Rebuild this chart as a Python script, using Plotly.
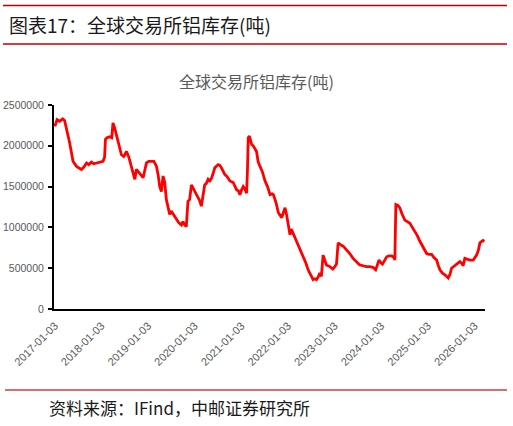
import plotly.graph_objects as go

dates = [
    "2017-01-03","2017-01-20","2017-02-10","2017-03-05","2017-03-20","2017-04-28","2017-05-25","2017-06-20",
    "2017-07-08","2017-07-30","2017-08-18","2017-09-08","2017-09-25","2017-10-16","2017-11-03","2017-11-25",
    "2017-12-20","2018-01-15","2018-01-27","2018-02-03","2018-02-15","2018-03-08","2018-03-24","2018-04-03",
    "2018-04-16","2018-04-30","2018-05-18","2018-06-08","2018-06-26","2018-07-18","2018-08-05","2018-08-25",
    "2018-09-09","2018-09-21","2018-10-03","2018-10-13","2018-10-30","2018-11-25","2018-12-08","2018-12-21",
    "2019-01-08","2019-01-30","2019-02-17","2019-03-09","2019-03-22","2019-04-04","2019-04-17","2019-04-30",
    "2019-05-13","2019-05-26","2019-06-21","2019-07-03","2019-07-18","2019-08-12","2019-08-30","2019-09-21",
    "2019-10-03","2019-10-16","2019-10-29","2019-11-11","2019-11-24","2019-12-08","2019-12-18","2020-01-03",
    "2020-01-15","2020-01-29","2020-02-10","2020-02-24","2020-03-08","2020-03-21","2020-04-03","2020-04-17",
    "2020-04-30","2020-05-13","2020-05-26","2020-06-08","2020-07-04","2020-07-17","2020-07-30","2020-08-25",
    "2020-09-14","2020-10-04","2020-10-30","2020-11-12","2020-11-26","2020-12-09","2020-12-22","2021-01-04",
    "2021-01-17","2021-01-30","2021-02-12","2021-02-19","2021-02-25","2021-03-06","2021-03-23","2021-04-05",
    "2021-04-18","2021-05-01","2021-05-14","2021-05-27","2021-06-16","2021-07-06","2021-07-26","2021-08-15",
    "2021-08-31","2021-09-10","2021-10-01","2021-10-19","2021-11-01","2021-11-14","2021-11-27","2021-12-10",
    "2021-12-23","2022-01-05","2022-01-18","2022-01-28","2022-02-08","2022-02-26","2022-03-11","2022-03-24",
    "2022-04-14","2022-05-02","2022-05-23","2022-06-09","2022-06-30","2022-07-18","2022-07-31","2022-08-13",
    "2022-08-26","2022-09-08","2022-09-21","2022-10-04","2022-10-17","2022-10-30","2022-11-26","2022-12-19",
    "2023-01-04","2023-01-17","2023-01-30","2023-02-12","2023-02-25","2023-03-10","2023-04-05","2023-05-01",
    "2023-05-27","2023-06-22","2023-07-18","2023-08-13","2023-09-08","2023-10-04","2023-10-30","2023-11-20",
    "2023-12-16","2023-12-29","2024-01-12","2024-02-14","2024-03-03","2024-03-24","2024-04-11","2024-04-18",
    "2024-04-26","2024-05-12","2024-05-27","2024-06-12","2024-07-05","2024-07-25","2024-08-14","2024-09-02",
    "2024-09-22","2024-10-11","2024-10-31","2024-11-24","2024-12-23","2025-01-10","2025-01-31","2025-02-18",
    "2025-03-11","2025-03-25","2025-04-06","2025-04-26","2025-05-15","2025-06-10","2025-06-23","2025-07-06",
    "2025-07-24","2025-08-14","2025-08-27","2025-09-09","2025-09-24","2025-10-05","2025-10-18","2025-11-07",
    "2025-11-27","2025-12-23","2026-01-05","2026-01-18","2026-02-01","2026-02-13","2026-03-10","2026-03-20",
]

inventory = [
    2240000,2320000,2300000,2330000,2310000,2040000,1810000,1750000,
    1730000,1710000,1740000,1790000,1770000,1800000,1780000,1790000,
    1800000,1810000,1860000,2080000,2100000,2110000,2100000,2280000,
    2220000,2140000,2020000,1890000,1870000,1930000,1860000,1750000,
    1680000,1590000,1710000,1690000,1670000,1610000,1700000,1790000,
    1810000,1810000,1810000,1750000,1650000,1500000,1440000,1630000,
    1550000,1340000,1160000,1200000,1160000,1090000,1060000,1030000,
    1070000,1030000,1010000,1320000,1340000,1520000,1490000,1440000,
    1400000,1360000,1330000,1260000,1400000,1520000,1540000,1590000,
    1570000,1600000,1660000,1730000,1770000,1760000,1730000,1650000,
    1620000,1570000,1550000,1510000,1460000,1450000,1400000,1460000,
    1500000,1470000,1420000,1700000,2100000,2120000,2020000,2000000,
    1960000,1930000,1800000,1750000,1680000,1570000,1500000,1400000,
    1410000,1400000,1300000,1180000,1150000,1120000,1180000,1240000,
    1150000,1030000,910000,980000,940000,890000,830000,790000,
    720000,640000,560000,480000,410000,360000,370000,360000,
    390000,440000,400000,660000,600000,540000,520000,490000,
    520000,550000,810000,790000,780000,770000,730000,680000,
    620000,580000,540000,530000,520000,520000,510000,480000,
    600000,570000,550000,640000,650000,650000,630000,600000,
    1280000,1270000,1240000,1170000,1090000,1070000,1050000,1000000,
    950000,900000,830000,760000,680000,670000,670000,630000,
    600000,530000,480000,440000,420000,380000,420000,500000,
    520000,540000,560000,580000,560000,530000,620000,610000,
    600000,600000,630000,660000,720000,810000,840000,830000,
]

x_ticks = ["2017-01-03","2018-01-03","2019-01-03","2020-01-03","2021-01-03",
           "2022-01-03","2023-01-03","2024-01-03","2025-01-03","2026-01-03"]
y_ticks = [0, 500000, 1000000, 1500000, 2000000, 2500000]

header = "图表17：全球交易所铝库存(吨)"
chart_title = "全球交易所铝库存(吨)"
source = "资料来源：IFind，中邮证券研究所"

W, H = 513, 426
L, R, T, B = 54, 28, 105, 117
PW, PH = W - L - R, H - T - B

def px(x):
    return (x - L) / PW

def py(y):
    return (H - B - y) / PH

fig = go.Figure()
fig.add_trace(go.Scatter(x=dates, y=inventory, mode="lines",
                         line=dict(color="#FF0000", width=2.8), showlegend=False))

fig.update_layout(
    width=W, height=H,
    margin=dict(l=L, r=R, t=T, b=B, autoexpand=False),
    paper_bgcolor="white", plot_bgcolor="white",
    font=dict(family="Liberation Sans, Arial, sans-serif", color="#595959", size=11),
    xaxis=dict(
        range=["2016-12-27", "2026-03-25"],
        tickvals=x_ticks, ticktext=x_ticks, tickangle=-45,
        showgrid=False, zeroline=False, showline=True, linecolor="black", linewidth=2,
        ticks="", ticklabelstandoff=4, automargin=False,
        tickfont=dict(size=11, color="#595959"),
    ),
    yaxis=dict(
        range=[0, 2500000], tickvals=y_ticks, ticktext=[str(v) for v in y_ticks],
        showgrid=False, zeroline=False, showline=True, linecolor="black", linewidth=2,
        ticks="outside", ticklen=4, tickcolor="black", tickwidth=1.5,
        ticklabelstandoff=2, automargin=False,
        tickfont=dict(size=10.5, color="#595959"),
    ),
)

shapes = []
for yy, x0, x1, col in [(5.5, 3, 507, "#C00000"), (44, 3, 507, "#C00000"), (390, 5, 507, "#C84040")]:
    shapes.append(dict(type="line", xref="paper", yref="paper",
                       x0=px(x0), x1=px(x1), y0=py(yy), y1=py(yy),
                       line=dict(color=col, width=1.5)))
fig.update_layout(shapes=shapes)

fig.add_annotation(x=px(7), y=py(24), xref="paper", yref="paper", xanchor="left", yanchor="middle",
                   text=header, showarrow=False,
                   font=dict(family="Noto Sans CJK SC", size=19, color="#1a1a1a"))
fig.add_annotation(x=px(256), y=py(81), xref="paper", yref="paper", xanchor="center", yanchor="middle",
                   text=chart_title, showarrow=False,
                   font=dict(family="Noto Sans CJK SC", size=16, color="#595959"))
fig.add_annotation(x=px(47), y=py(407), xref="paper", yref="paper", xanchor="left", yanchor="middle",
                   text=source, showarrow=False,
                   font=dict(family="Noto Sans CJK SC", size=17, color="#1a1a1a"))

fig.write_html("out.html")
